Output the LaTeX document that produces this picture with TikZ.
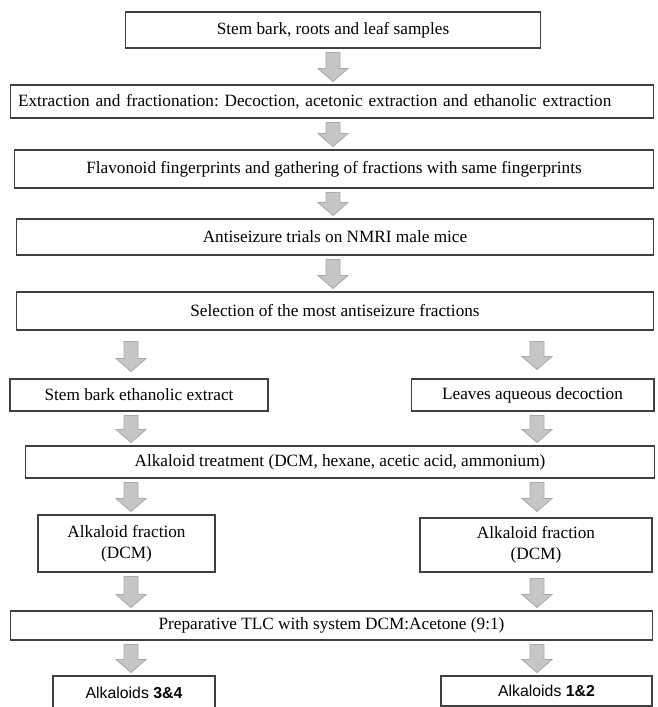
\documentclass[tikz,border=0pt]{standalone}
\usepackage{xparse}
\usepackage{fontspec}
\setmainfont{Liberation Serif}
\newfontfamily\alkfont{Liberation Sans}
\usetikzlibrary{positioning,calc}
\definecolor{boxline}{HTML}{3F3F3F}
\definecolor{arrowfill}{HTML}{C6C6C6}
\definecolor{arrowline}{HTML}{A9A9A9}
\tikzset{
block/.style = {draw=boxline, fill=white, rectangle, line width=0.6pt, inner sep=0pt, align=center, font=\fontsize{9.8pt}{11.8pt}\selectfont\frenchspacing},
result/.style = {block, font=\alkfont\fontsize{9pt}{11pt}\selectfont},
col/.style = {coordinate},
flow/.style = {fill=arrowfill, draw=arrowline, line width=0.5pt, line join=miter}
}
% fat grey arrow: top gap, bottom gap, column, from node, to node
\NewDocumentCommand\grayarrow{O{4}O{3}mmm}{%
  \path (#3 |- #4.south) ++(0,#1) coordinate (ga-top)
        (#3 |- #5.north) ++(0,-#2) coordinate (ga-tip);
  \filldraw[flow] ($(ga-top)+(-7,0)$) -- ($(ga-tip)+(-7,-13)$) -- ($(ga-tip)+(-15,-13)$)
     -- (ga-tip) -- ($(ga-tip)+(15,-13)$) -- ($(ga-tip)+(7,-13)$) -- ($(ga-top)+(7,0)$) -- cycle;
}
\begin{document}
\begin{tikzpicture}[x=0.02cm, y=-0.02cm]
    \useasboundingbox (0,0) rectangle (657,707);
    % columns of the arrows
    \node at (333,0) [col, name=C] {};
    \node at (131,0) [col, name=L] {};
    \node at (537,0) [col, name=R] {};

    % the blocks
    \node at (333,30) [block, minimum width=8.32cm, minimum height=0.72cm, name=samples] {Stem bark, roots and leaf samples};
    \node at (332,101.5) [block, text width=12.56cm, inner xsep=0.16cm, align=left, minimum height=0.66cm, name=extract] {Extraction and fractionation: Decoction, acetonic extraction and ethanolic extraction};
    \node at (334,169) [block, minimum width=12.8cm, minimum height=0.76cm, name=finger] {Flavonoid fingerprints and gathering of fractions with same fingerprints};
    \node at (335,237) [block, minimum width=12.76cm, minimum height=0.72cm, name=trials] {Antiseizure trials on NMRI male mice};
    \node at (335,311) [block, minimum width=12.76cm, minimum height=0.76cm, name=select] {Selection of the most antiseizure fractions};
    \node at (139,395) [block, minimum width=5.16cm, minimum height=0.64cm, name=bark] {Stem bark ethanolic extract};
    \node at (532.5,395) [block, minimum width=4.86cm, minimum height=0.64cm, name=leaves] {Leaves aqueous decoction};
    \node at (340,462) [block, minimum width=12.6cm, minimum height=0.64cm, name=treat] {Alkaloid treatment (DCM, hexane, acetic acid, ammonium)};
    \node at (126.5,543.5) [block, minimum width=3.54cm, minimum height=1.14cm, name=fracL] {Alkaloid fraction\\(DCM)};
    \node at (536,545) [block, minimum width=4.64cm, minimum height=1.08cm, name=fracR] {Alkaloid fraction\\(DCM)};
    \node at (331.5,625.5) [block, minimum width=12.86cm, minimum height=0.58cm, name=tlc] {Preparative TLC with system DCM:Acetone (9:1)};
    \node at (134,692.5) [result, minimum width=3.24cm, minimum height=0.66cm, name=alkL] {Alkaloids \textbf{3\&4}};
    \node at (546.5,691) [result, minimum width=4.22cm, minimum height=0.6cm, name=alkR] {Alkaloids \textbf{1\&2}};

    % the arrows between them
    \grayarrow{C}{samples}{extract}
    \grayarrow{C}{extract}{finger}
    \grayarrow{C}{finger}{trials}
    \grayarrow{C}{trials}{select}
    \grayarrow[11][7]{L}{select}{bark}
    \grayarrow[11][9]{R}{select}{leaves}
    \grayarrow{L}{bark}{treat}
    \grayarrow{R}{leaves}{treat}
    \grayarrow{L}{treat}{fracL}
    \grayarrow[4][6]{R}{treat}{fracR}
    \grayarrow{L}{fracL}{tlc}
    \grayarrow[6][3]{R}{fracR}{tlc}
    \grayarrow{L}{tlc}{alkL}
    \grayarrow{R}{tlc}{alkR}
\end{tikzpicture}
\end{document}
